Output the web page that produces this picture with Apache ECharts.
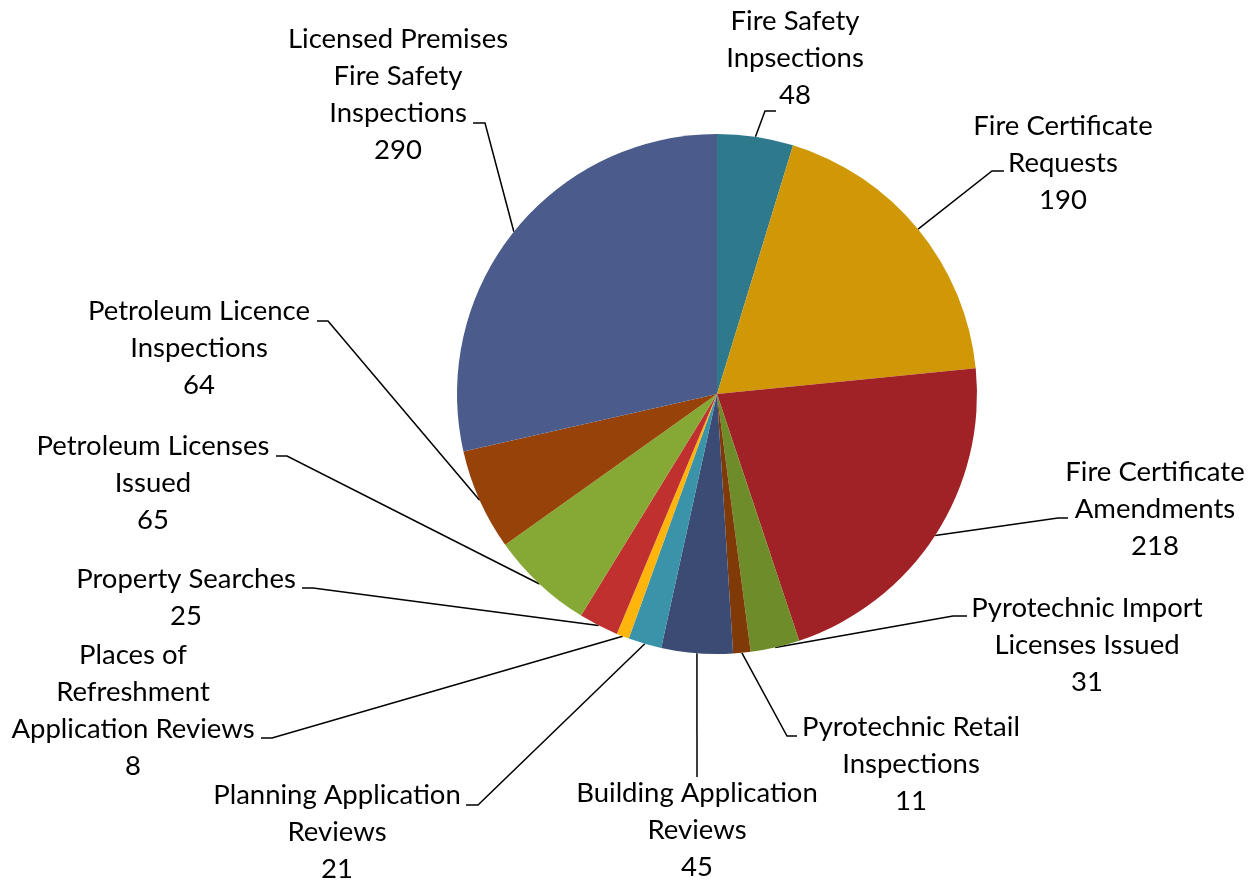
<!DOCTYPE html>
<html>
<head>
<meta charset="utf-8">
<script src="https://cdn.jsdelivr.net/npm/echarts@6/dist/echarts.min.js"></script>
<style>
  html, body { margin: 0; padding: 0; background: #fff; }
  #chart { width: 1250px; height: 882px; }
</style>
</head>
<body>
<div id="chart"></div>
<script>
// slice names (line breaks as in the picture) and counts, clockwise from 12 o'clock
const categories = [
  "Fire Safety\nInpsections",
  "Fire Certificate\nRequests",
  "Fire Certificate\nAmendments",
  "Pyrotechnic Import\nLicenses Issued",
  "Pyrotechnic Retail\nInspections",
  "Building Application\nReviews",
  "Planning Application\nReviews",
  "Places of\nRefreshment\nApplication Reviews",
  "Property Searches",
  "Petroleum Licenses\nIssued",
  "Petroleum Licence\nInspections",
  "Licensed Premises\nFire Safety\nInspections"
];
const counts = [48, 190, 218, 31, 11, 45, 21, 8, 25, 65, 64, 290];

const palette = [
  "#2e7a8c", "#d09806", "#a02227", "#6e8c2a", "#7f3a08", "#3c4b73",
  "#3a93a8", "#ffb50c", "#c0302f", "#86a935", "#964209", "#4a5b8c"
];

// where each label block sits (centre) and where its leader line meets it
// [labelX, labelY, tickStartX, tickEndX, tickY]
const labelSpots = [
  [795, 58, 765, 776, 111],
  [1063, 163, 992, 1004, 171],
  [1155, 509, 1058, 1068, 518],
  [1087, 645, 953, 967, 616],
  [911, 764, 787, 797, 736],
  [697, 830, null, 697, 777],
  [337, 832, 478, 466, 805],
  [133, 711, 272, 261, 738],
  [186, 598, 313, 302, 588],
  [153, 483, 287, 276, 456],
  [199, 348, 328, 317, 321],
  [398, 95, 485, 473, 123]
];

const chart = echarts.init(document.getElementById("chart"));

chart.setOption({
  animation: false,
  color: palette,
  series: [
    {
      type: "pie",
      center: [717, 394],
      radius: 260,
      startAngle: 90,
      clockwise: true,
      avoidLabelOverlap: false,
      itemStyle: { borderWidth: 0 },
      data: categories.map((name, i) => ({ name: name, value: counts[i] })),
      label: {
        show: true,
        position: "outside",
        formatter: "{b}\n{c}",
        fontFamily: "Lato",
        fontSize: 27.5,
        lineHeight: 37,
        color: "#000",
        align: "center"
      },
      labelLine: {
        show: true,
        length: 20,
        length2: 10,
        lineStyle: { color: "#000", width: 1.5 }
      },
      labelLayout: function (params) {
        const s = labelSpots[params.dataIndex];
        const start = params.labelLinePoints[0];
        const pts = [start];
        if (s[2] !== null) pts.push([s[2], s[4]]);
        pts.push([s[3], s[4]]);
        return {
          x: s[0],
          y: s[1],
          align: "center",
          verticalAlign: "middle",
          labelLinePoints: pts
        };
      }
    }
  ]
});
</script>
</body>
</html>
